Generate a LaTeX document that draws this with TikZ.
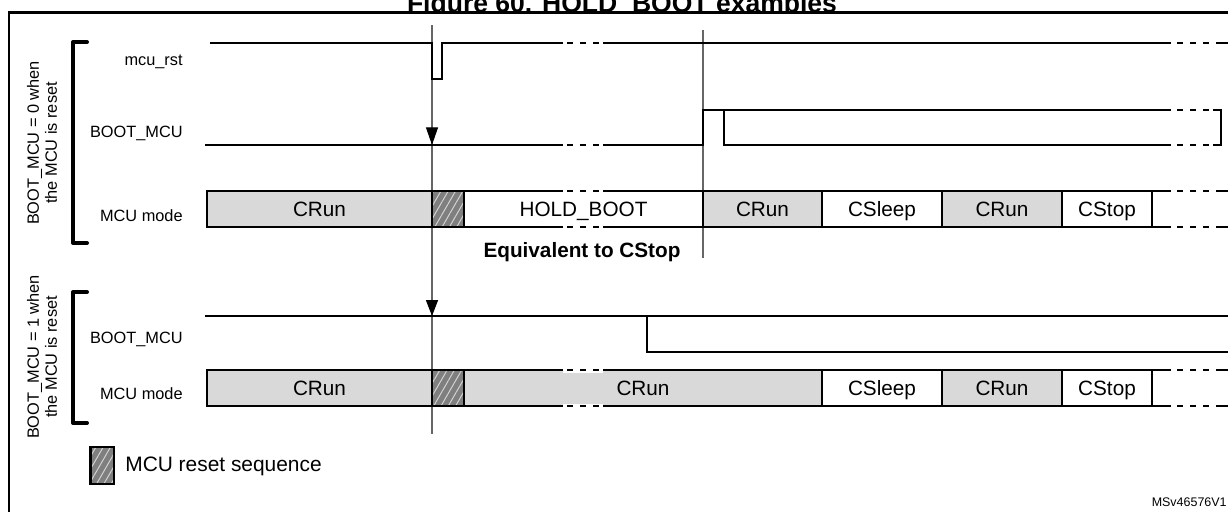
\documentclass[tikz,border=0pt]{standalone}
\usepackage{fontspec}
\setmainfont{Liberation Sans}
\usetikzlibrary{arrows.meta,patterns.meta}
\definecolor{rungray}{HTML}{D9D9D9}
\definecolor{hatchgray}{HTML}{7F7F7F}
\definecolor{hatchline}{HTML}{D4D4D4}
\newcommand{\gapmid}[1]{\foreach \a/\b in {567/573,580/586,593/599} {\draw[sig] (\a,#1) -- (\b,#1);}}
\newcommand{\gapend}[1]{\foreach \a/\b in {1177/1183,1190/1196,1203/1209} {\draw[sig] (\a,#1) -- (\b,#1);}}
\begin{document}
\begin{tikzpicture}[x=0.02cm,y=-0.02cm,
  sig/.style={line width=1.15pt},
  frameline/.style={line width=1.2pt},
  marker/.style={line width=0.6pt, draw=black!60},
  brack/.style={line width=2.3pt, line join=round, line cap=round},
  hatchbox/.style={fill=hatchgray},
  hatchlines/.style={pattern={Lines[angle=60,distance=3.6pt,line width=0.55pt]}, pattern color=hatchline},
  rowlbl/.style={font=\fontsize{9.3}{11}\selectfont, anchor=base east, inner sep=0pt},
  sidelbl/.style={font=\fontsize{9.3}{10.3}\selectfont, rotate=90, align=center, inner sep=0pt},
  boxlbl/.style={font=\fontsize{11.8}{14}\selectfont, anchor=base, inner sep=0pt}]
\useasboundingbox (0,0) rectangle (1228,512);
\fill[white] (0,0) rectangle (1228,512);
\clip (0,0) rectangle (1228,512);

% title (clipped at the top of the frame)
\begin{scope}
\clip (0,0) rectangle (1228,12);
\node[font=\bfseries\fontsize{15.1}{18}\selectfont, anchor=base, inner sep=0pt] (title) at (622,12) {Figure 60. HOLD\_BOOT examples};
\end{scope}

% frame
\draw[frameline] (9,512) -- (9,12.5) -- (1228,12.5);

% side brackets and texts
\draw[brack] (87,42) -- (73,42) -- (73,243) -- (87,243);
\draw[brack] (87,292) -- (73,292) -- (73,423) -- (87,423);
\node[sidelbl] (side0) at (42,143) {BOOT\_MCU = 0 when\\the MCU is reset};
\node[sidelbl] (side1) at (42,357) {BOOT\_MCU = 1 when\\the MCU is reset};

% row labels
\node[rowlbl] (lrst) at (183,65.5) {mcu\_rst};
\node[rowlbl] (lboot0) at (183,137) {BOOT\_MCU};
\node[rowlbl] (lmode0) at (183,221) {MCU mode};
\node[rowlbl] (lboot1) at (183,343) {BOOT\_MCU};
\node[rowlbl] (lmode1) at (183,399) {MCU mode};

% vertical markers
\coordinate (v1t) at (432,25);
\coordinate (v1a) at (432,145);
\coordinate (v1b) at (432,316);
\coordinate (v1e) at (432,434);
\coordinate (v2t) at (703,30);
\coordinate (v2e) at (703,258);
\draw[marker] (v1t) -- (v1e);
\draw[marker] (v2t) -- (v2e);
\draw[marker, -{Triangle[length=10pt,width=6.8pt,color=black]}] (v1t) -- (v1a);
\draw[marker, -{Triangle[length=9pt,width=6.8pt,color=black]}] (v1a) -- (v1b);

% mcu_rst
\draw[sig] (210,43) -- (432,43) -- (432,79) -- (442,79) -- (442,43) -- (563,43);
\draw[sig] (603,43) -- (1171,43);
\gapmid{43}\gapend{43}
\draw[sig] (1216,43) -- (1228,43);

% BOOT_MCU top
\draw[sig] (205,145) -- (563,145);
\gapmid{145}
\draw[sig] (603,145) -- (703,145) -- (703,110) -- (1171,110);
\draw[sig] (724,110) -- (724,145) -- (1171,145);
\gapend{110}\gapend{145}
\draw[sig] (1213,110) -- (1221,110) -- (1221,145) -- (1213,145);

% MCU mode top row
\fill[rungray] (207,191) rectangle (432,227);
\fill[rungray] (703,191) rectangle (822,227);
\fill[rungray] (942,191) rectangle (1062,227);
\fill[hatchbox] (432,191) rectangle (464,227);
\fill[hatchlines] (432,191) rectangle (464,227);
\draw[sig] (563,191) -- (207,191) -- (207,227) -- (563,227);
\draw[sig] (603,191) -- (1171,191);
\draw[sig] (603,227) -- (1171,227);
\foreach \x in {432,464,703,822,942,1062,1152} {\draw[sig] (\x,191) -- (\x,227);}
\gapmid{191}\gapmid{227}\gapend{191}\gapend{227}
\draw[sig] (1216,191) -- (1228,191);
\draw[sig] (1216,227) -- (1228,227);
\node[boxlbl] (t1) at (319.5,216.5) {CRun};
\node[boxlbl] (t2) at (583.5,216.5) {HOLD\_BOOT};
\node[boxlbl] (t3) at (762.5,216.5) {CRun};
\node[boxlbl] (t4) at (882,216.5) {CSleep};
\node[boxlbl] (t5) at (1002,216.5) {CRun};
\node[boxlbl] (t6) at (1107,216.5) {CStop};

\node[font=\bfseries\fontsize{11.8}{14}\selectfont, anchor=base, inner sep=0pt] (equiv) at (582,257) {Equivalent to CStop};

% BOOT_MCU bottom
\draw[sig] (205,316) -- (1228,316);
\draw[sig] (647,316) -- (647,352) -- (1228,352);

% MCU mode bottom row
\fill[rungray] (207,370) rectangle (432,406);
\fill[rungray] (464,370) rectangle (822,406);
\fill[rungray] (942,370) rectangle (1062,406);
\fill[hatchbox] (432,370) rectangle (464,406);
\fill[hatchlines] (432,370) rectangle (464,406);
\fill[white] (563,368) rectangle (603,372.5);
\fill[white] (563,403.5) rectangle (603,408);
\draw[sig] (563,370) -- (207,370) -- (207,406) -- (563,406);
\draw[sig] (603,370) -- (1171,370);
\draw[sig] (603,406) -- (1171,406);
\foreach \x in {432,464,822,942,1062,1152} {\draw[sig] (\x,370) -- (\x,406);}
\gapmid{370}\gapmid{406}\gapend{370}\gapend{406}
\draw[sig] (1216,370) -- (1228,370);
\draw[sig] (1216,406) -- (1228,406);
\node[boxlbl] (b1) at (319.5,395.5) {CRun};
\node[boxlbl] (b2) at (643,395.5) {CRun};
\node[boxlbl] (b4) at (882,395.5) {CSleep};
\node[boxlbl] (b5) at (1002,395.5) {CRun};
\node[boxlbl] (b6) at (1107,395.5) {CStop};

% legend
\fill[hatchbox] (90.5,447) rectangle (114,484);
\fill[hatchlines] (90.5,447) rectangle (114,484);
\draw[sig] (90.5,447) rectangle (114,484);
\node[font=\fontsize{11.9}{14}\selectfont, anchor=base west, inner sep=0pt] (leg) at (125,471.5) {MCU reset sequence};

\node[font=\fontsize{7.1}{8}\selectfont, anchor=base east, inner sep=0pt] (ref) at (1227,506.5) {MSv46576V1};
\end{tikzpicture}
\end{document}
